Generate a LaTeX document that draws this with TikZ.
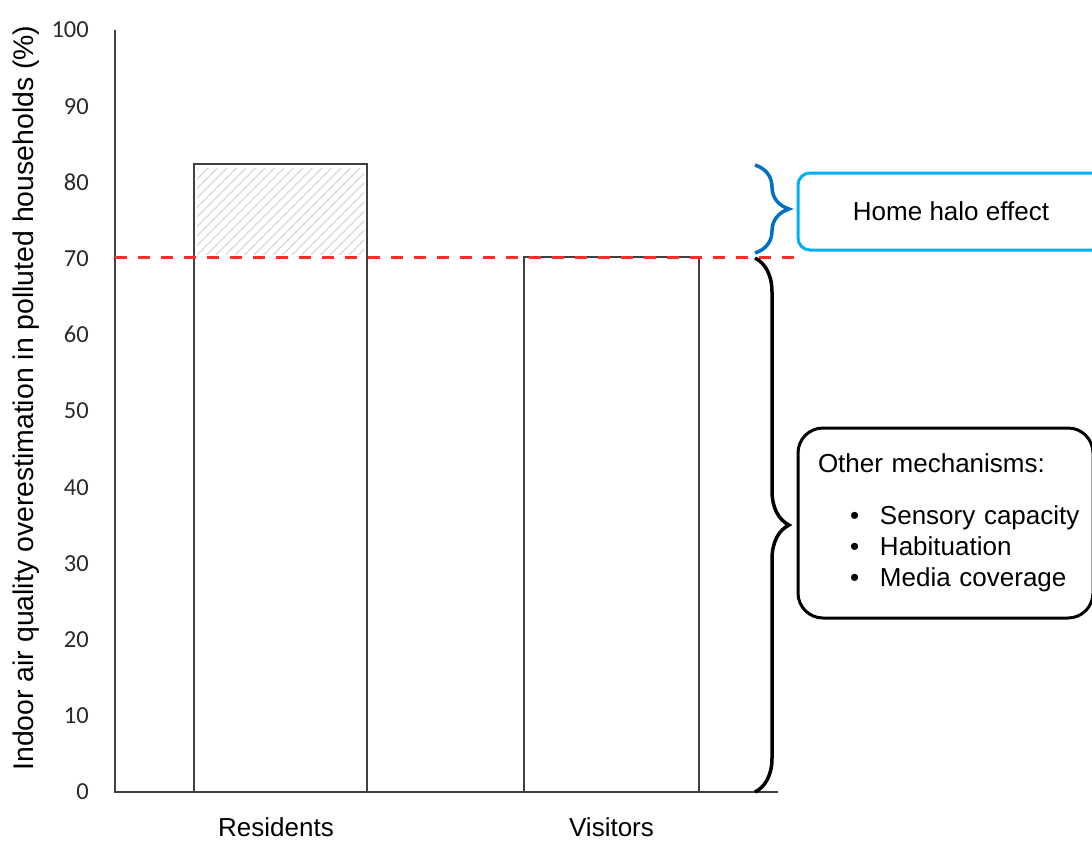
\documentclass[tikz,border=0pt]{standalone}
\usepackage{fontspec}
\setmainfont{Liberation Sans}
\newfontfamily\axisfont{Carlito}
\usetikzlibrary{decorations.pathreplacing}

\definecolor{axisgray}{HTML}{404040}
\definecolor{ticktext}{HTML}{2A2A2A}
\definecolor{cutred}{HTML}{FF2A2A}
\definecolor{bracedark}{HTML}{0070C0}
\definecolor{halocyan}{HTML}{00B0F0}
\definecolor{hatchgray}{HTML}{D8D8D8}

\newcommand{\mechitem}[1]{\hspace*{52pt}\makebox[30pt][l]{\textbullet}#1}

\begin{document}
\begin{tikzpicture}[x=1pt, y=-1pt, font=\fontsize{26}{31}\selectfont]
    \tikzstyle{bar} = [draw=axisgray, line width=1.8pt]
    \tikzstyle{axis} = [draw=axisgray, line width=2pt]
    \tikzstyle{tick} = [anchor=east, inner sep=0pt, text=ticktext, font=\axisfont\fontsize{24.5}{28}\selectfont]
    \tikzstyle{cat} = [anchor=base, inner sep=0pt]
    \tikzstyle{curly} = [line width=3.5pt, decorate, decoration={brace, amplitude=34pt}]
    \tikzstyle{halobox} = [draw=halocyan, line width=3pt, rounded corners=12pt, minimum width=306pt, minimum height=77pt]
    \tikzstyle{mechbox} = [draw=black, line width=3pt, rounded corners=25pt, text width=295pt, minimum height=190pt, inner sep=0pt, align=left]

    \useasboundingbox (0,0) rectangle (1092,841);

    % axes and ticks
    \coordinate (ytop) at (115,30);
    \coordinate (origin) at (115,792);
    \coordinate (xend) at (778,792);
    \draw [axis] (ytop) -- (origin) -- (xend);
    \foreach \v in {0,10,...,100}
        \node [tick] (t\v) at (89,792-7.62*\v) {\v};
    \node [rotate=90, font=\fontsize{28.4}{34}\selectfont] (ylab) at (26,398) {Indoor air quality overestimation in polluted households (\%)};

    % bars
    \begin{scope}
        \clip (197,168) rectangle (364,254);
        \foreach \x in {100,109.5,...,370}
            \draw [hatchgray, line width=1.1pt] (\x,257) -- ++(92,-92);
    \end{scope}
    \draw [bar] (194,792) rectangle (367,164);
    \draw [bar] (524,792) rectangle (699,257);
    \node [cat] (res) at (276,836) {Residents};
    \node [cat] (vis) at (611.5,836) {Visitors};

    % visitor level
    \coordinate (cutstart) at (115,257);
    \coordinate (cutend) at (795,257);
    \draw [cutred, line width=3pt, dash pattern=on 12pt off 11pt] (cutstart) -- (cutend);

    % braces and boxes
    \coordinate (halotop) at (755,165);
    \coordinate (halobot) at (755,253);
    \coordinate (mechtop) at (755,258);
    \coordinate (mechbot) at (755,792);
    \draw [curly, bracedark] (halotop) -- (halobot);
    \draw [curly, black] (mechtop) -- (mechbot);

    \node [halobox] (halo) at (951,211.5) {Home halo effect};
    \node [mechbox] (mech) at (945.5,523) {\hspace*{20pt}Other mechanisms:\\[21pt]
        \mechitem{Sensory capacity}\\
        \mechitem{Habituation}\\
        \mechitem{Media coverage}};
\end{tikzpicture}
\end{document}
